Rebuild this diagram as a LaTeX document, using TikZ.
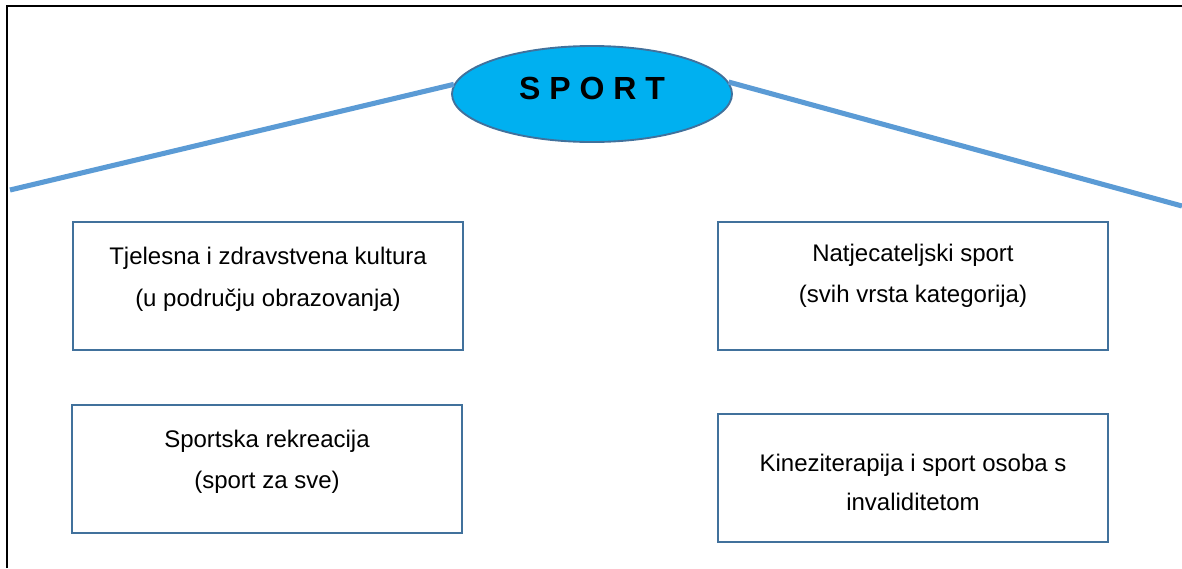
\documentclass[tikz,border=0pt]{standalone}
\usepackage{fontspec}
\setmainfont{Liberation Sans}
\usetikzlibrary{shapes.geometric}
\definecolor{sportfill}{HTML}{00B0F0}
\definecolor{sportedge}{HTML}{41719C}
\definecolor{branch}{HTML}{5B9BD5}
\begin{document}
\begin{tikzpicture}[x=0.75pt,y=-0.75pt,
	kind/.style={draw=sportedge,line width=1.6pt,minimum width=292.5pt,minimum height=96pt,
		align=center,font=\fontsize{18}{31}\selectfont,inner sep=0pt},
	branchline/.style={branch,line width=3.8pt}]
	\useasboundingbox (0,0) rectangle (1182,568);
	\draw[line width=1.2pt] (7,568) -- (7,6) -- (1182,6);

	\node[ellipse,draw=sportedge,fill=sportfill,line width=1.4pt,minimum width=210pt,minimum height=72pt,
		text depth=9pt,font=\fontsize{24}{24}\selectfont\bfseries] (sport) at (592,94) {S P O R T};
	\coordinate (leftend) at (10,190);
	\coordinate (rightend) at (1182,206);
	\draw[branchline] (leftend) -- (sport.176);
	\draw[branchline] (sport.5) -- (rightend);

	\node[kind,text depth=13.6pt] (tzk) at (268,286) {Tjelesna i zdravstvena kultura\\(u području obrazovanja)};
	\node[kind,text depth=18.8pt] (natj) at (913,286) {Natjecateljski sport\\(svih vrsta kategorija)};
	\node[kind,text depth=14.3pt] (rekr) at (267,469) {Sportska rekreacija\\(sport za sve)};
	\node[kind,text height=48pt,text depth=0pt,font=\fontsize{18}{29}\selectfont] (kinez) at (913,478) {Kineziterapija i sport osoba s\\invaliditetom};
\end{tikzpicture}
\end{document}
